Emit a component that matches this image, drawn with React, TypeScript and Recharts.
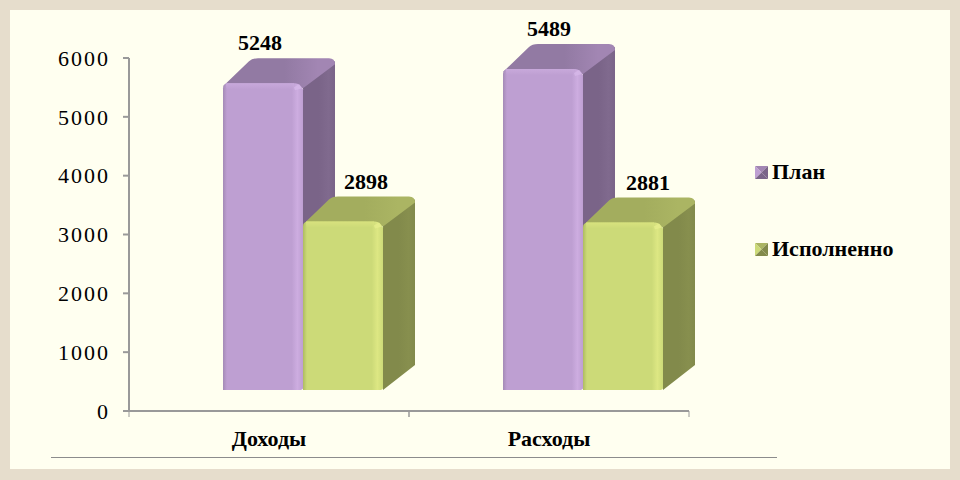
import React from 'react';
import { BarChart, Bar, XAxis, YAxis, Legend, LabelList } from 'recharts';

const categories = ['Доходы', 'Расходы'];
const planValues = [5248, 5489];
const doneValues = [2898, 2881];
const yTicks = [0, 1000, 2000, 3000, 4000, 5000, 6000];

const data = categories.map((name, i) => ({ name, plan: planValues[i], done: doneValues[i] }));

const SERIF = '"Liberation Serif", serif';
const AXIS = '#999999';

const colors: Record<string, any> = {
    plan: { id: 'plan', front: '#BE9FD2', light: '#CDADE0', edge: '#A48BB6', side: '#7A6488', sideLight: '#806A8E', top: '#927AA3', topLight: '#A286B3', bevel: '#C8A9DB', spot: '#D6B8E8' },
    done: { id: 'done', front: '#CCDA78', light: '#DDE783', edge: '#AEBB62', side: '#828A4B', sideLight: '#878F4E', top: '#A3AD5E', topLight: '#ABB563', bevel: '#D8E27E', spot: '#E6EE8C' },
};

// pseudo 3d box, front face is shifted off the scale position like the old excel charts
function Box3D(props: any) {
    const { x, y, width, height, palette } = props;
    const c = palette;
    const dx = 32;
    const dy = 25;
    const left = x + 34;
    const right = left + width;
    const top = y - 19;
    const bottom = y + height - 21;
    return (
        <g>
            <path
                d={`M${right} ${top} L${right + dx - 1} ${top - dy + 3} Q${right + dx} ${top - dy + 2} ${right + dx} ${top - dy + 6} L${right + dx} ${bottom - dy} L${right} ${bottom} Z`}
                fill={`url(#side-${c.id})`}
            />
            <path
                d={`M${left} ${top + 3} L${left + dx - 6} ${top - dy + 3} Q${left + dx - 3} ${top - dy} ${left + dx + 3} ${top - dy} L${right + dx - 6} ${top - dy} Q${right + dx} ${top - dy} ${right + dx} ${top - dy + 6} L${right} ${top + 5} Z`}
                fill={`url(#top-${c.id})`}
            />
            <path
                d={`M${left} ${bottom} L${left} ${top + 5} Q${left} ${top + 1} ${left + 4} ${top} L${right - 8} ${top} Q${right - 3} ${top} ${right} ${top + 6} L${right} ${bottom - 2} Q${right} ${bottom} ${right - 4} ${bottom} Z`}
                fill={`url(#front-${c.id})`}
            />
            <rect x={left + 3} y={top} width={width - 12} height={6} fill={`url(#bevel-${c.id})`} />
            <path d={`M${right - 9} ${top + 4} L${right - 4} ${top + 1} L${right - 1} ${top + 5} L${right - 8} ${top + 7} Z`} fill={c.spot} opacity={0.8} />
        </g>
    );
}

function Gradients({ c }: { c: any }) {
    return (
        <>
            <linearGradient id={`front-${c.id}`} x1="0" y1="0" x2="1" y2="0">
                <stop offset="0" stopColor={c.edge} />
                <stop offset="0.05" stopColor={c.front} />
                <stop offset="0.86" stopColor={c.front} />
                <stop offset="0.93" stopColor={c.light} />
                <stop offset="1" stopColor={c.front} />
            </linearGradient>
            <linearGradient id={`side-${c.id}`} x1="0" y1="0" x2="1" y2="0">
                <stop offset="0" stopColor={c.side} />
                <stop offset="0.5" stopColor={c.side} />
                <stop offset="0.8" stopColor={c.sideLight} />
                <stop offset="1" stopColor={c.side} />
            </linearGradient>
            <linearGradient id={`top-${c.id}`} x1="0" y1="0" x2="1" y2="0">
                <stop offset="0" stopColor={c.top} />
                <stop offset="0.55" stopColor={c.top} />
                <stop offset="0.85" stopColor={c.topLight} />
                <stop offset="1" stopColor={c.topLight} />
            </linearGradient>
            <linearGradient id={`bevel-${c.id}`} x1="0" y1="0" x2="0" y2="1">
                <stop offset="0" stopColor={c.bevel} />
                <stop offset="1" stopColor={c.bevel} stopOpacity={0} />
            </linearGradient>
        </>
    );
}

const labelShift: Record<string, number[]> = { plan: [71, 80], done: [97, 99] };

function valueLabel(key: string) {
    return (props: any) => {
        const { x, y, value, index } = props;
        return (
            <text
                x={x + labelShift[key][index]}
                y={y - 52}
                textAnchor="middle"
                fontFamily={SERIF}
                fontWeight="bold"
                fontSize={22}
                fill="#000"
            >
                {value}
            </text>
        );
    };
}

function CategoryTick(props: any) {
    const { x, y, payload } = props;
    return (
        <g>
            <line x1={x - 140} x2={x - 140} y1={411} y2={417} stroke={AXIS} />
            <line x1={x + 140} x2={x + 140} y1={411} y2={417} stroke={AXIS} />
            <text x={x} y={y + 27} textAnchor="middle" fontFamily={SERIF} fontWeight="bold" fontSize={22} fill="#000">
                {payload.value}
            </text>
        </g>
    );
}

function LegendIcon({ c }: { c: any }) {
    return (
        <svg width={13} height={13} style={{ display: 'block', marginTop: 1 }}>
            <polygon points="0,0 13,0 6.5,6.5" fill={c.topLight} />
            <polygon points="0,0 0,13 6.5,6.5" fill={c.front} />
            <polygon points="13,0 13,13 6.5,6.5" fill={c.side} />
            <polygon points="0,13 13,13 6.5,6.5" fill={c.side} />
        </svg>
    );
}

function LegendBox() {
    const rows = [
        { label: 'План', c: colors.plan },
        { label: 'Исполненно', c: colors.done },
    ];
    return (
        <div>
            {rows.map(r => (
                <div key={r.label} style={{ display: 'flex', alignItems: 'center', height: 24, marginBottom: 53 }}>
                    <LegendIcon c={r.c} />
                    <span style={{ marginLeft: 4, fontFamily: SERIF, fontWeight: 'bold', fontSize: 22, color: '#000', whiteSpace: 'nowrap' }}>
                        {r.label}
                    </span>
                </div>
            ))}
        </div>
    );
}

export default function App() {
    return (
        <div style={{ position: 'fixed', left: 0, top: 0, width: 960, height: 480, background: '#E6DDCC' }}>
            <div style={{ position: 'absolute', left: 10, top: 10, width: 940, height: 459, background: '#FFFFF0' }} />
            <div style={{ position: 'absolute', left: 51, top: 457, width: 726, height: 1, background: '#8c8c8c' }} />
            <div style={{ position: 'absolute', left: 0, top: 0 }}>
                <BarChart
                    width={960}
                    height={480}
                    data={data}
                    barSize={80}
                    barGap={0}
                    margin={{ top: 58, right: 271, bottom: 0, left: 0 }}
                >
                    <defs>
                        <Gradients c={colors.plan} />
                        <Gradients c={colors.done} />
                    </defs>
                    <XAxis
                        dataKey="name"
                        height={69}
                        stroke={AXIS}
                        strokeWidth={2}
                        tickLine={false}
                        interval={0}
                        tick={<CategoryTick />}
                    />
                    <YAxis
                        width={129}
                        domain={[0, 6000]}
                        ticks={yTicks}
                        stroke={AXIS}
                        strokeWidth={2}
                        tickSize={6}
                        tick={{ fontFamily: SERIF, fontSize: 22, fill: '#000', letterSpacing: 2, dx: -11 }}
                    />
                    <Legend
                        layout="vertical"
                        align="center"
                        verticalAlign="middle"
                        content={<LegendBox />}
                        wrapperStyle={{ position: 'absolute', left: 755, top: 160, width: 190 }}
                    />
                    <Bar dataKey="plan" name="План" isAnimationActive={false} shape={<Box3D palette={colors.plan} />}>
                        <LabelList dataKey="plan" content={valueLabel('plan')} />
                    </Bar>
                    <Bar dataKey="done" name="Исполненно" isAnimationActive={false} shape={<Box3D palette={colors.done} />}>
                        <LabelList dataKey="done" content={valueLabel('done')} />
                    </Bar>
                </BarChart>
            </div>
        </div>
    );
}
